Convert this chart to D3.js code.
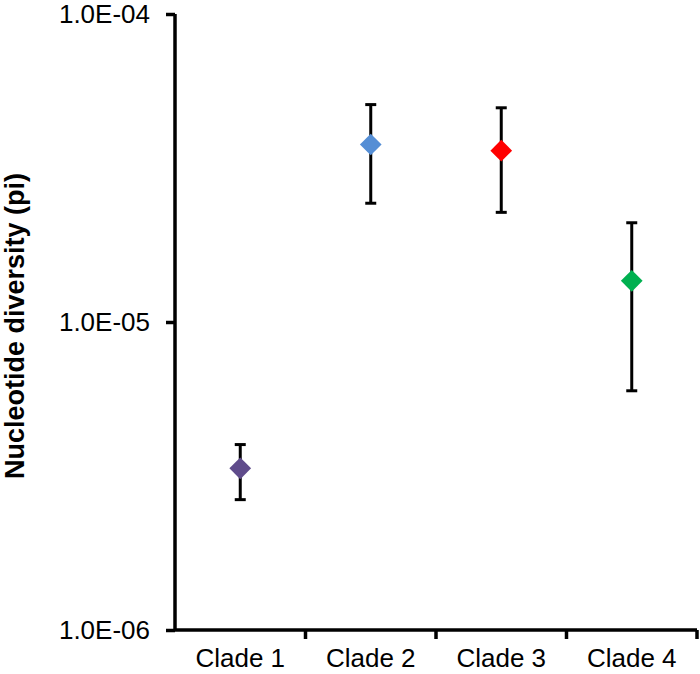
<!DOCTYPE html>
<html>
<head>
<meta charset="utf-8">
<script src="https://cdnjs.cloudflare.com/ajax/libs/d3/7.8.5/d3.min.js"></script>
<style>
  body { margin: 0; background: #fff; }
  svg text { font-family: "Liberation Sans", Arial, sans-serif; fill: #000; }
</style>
</head>
<body>
<div id="chart"></div>
<script>
// data
var clades = ["Clade 1", "Clade 2", "Clade 3", "Clade 4"];
var pi = [3.35e-6, 3.77e-5, 3.6e-5, 1.36e-5];
var piHigh = [4.0e-6, 5.08e-5, 4.96e-5, 2.1e-5];
var piLow = [2.65e-6, 2.43e-5, 2.27e-5, 5.98e-6];
var colors = ["#5f4b8b", "#558ed5", "#ff0000", "#00b050"];
var yTicks = [1e-6, 1e-5, 1e-4];

// plot box (don't call it "top", that's window.top)
var w = 700, h = 674;
var mLeft = 175, mRight = 697, mTop = 14, mBottom = 630;

var svg = d3.select("#chart").append("svg").attr("width", w).attr("height", h);

var x = d3.scaleBand().domain(clades).range([mLeft, mRight]).padding(0);
var y = d3.scaleLog().domain([1e-6, 1e-4]).range([mBottom, mTop]);

var fmt = function(d) {
	var e = Math.round(Math.log10(d));
	var s = e < 0 ? "-" : "+";
	var a = Math.abs(e);
	return "1.0E" + s + (a < 10 ? "0" + a : a);
};

// y axis
var yAxis = svg.append("g")
	.attr("transform", "translate(" + mLeft + ",0)")
	.call(d3.axisLeft(y).tickValues(yTicks).tickFormat(fmt).tickSize(9).tickPadding(16));
yAxis.select(".domain").attr("d", "M0," + mTop + "V" + mBottom)
	.attr("stroke", "#000").attr("stroke-width", 3.5);
yAxis.selectAll(".tick line").attr("stroke-width", 3.5);
yAxis.selectAll(".tick text").style("font-size", "26px");

// x axis, labels at band centres
var xAxis = svg.append("g")
	.attr("transform", "translate(0," + mBottom + ")")
	.call(d3.axisBottom(x).tickSize(0).tickPadding(19));
xAxis.select(".domain").attr("d", "M" + mLeft + ",0H" + mRight)
	.attr("stroke", "#000").attr("stroke-width", 3.5);
xAxis.selectAll(".tick text").style("font-size", "26px").attr("dy", "0.71em");

// ticks between categories
var edges = clades.map(function(c) { return x(c) + x.bandwidth(); });
svg.append("g").selectAll("line")
	.data(edges)
	.enter()
	.append("line")
	.attr("x1", function(d) { return d; })
	.attr("x2", function(d) { return d; })
	.attr("y1", mBottom)
	.attr("y2", mBottom + 9)
	.attr("stroke", "#000")
	.attr("stroke-width", 3.5);

// error bars
var cx = function(i) { return x(clades[i]) + x.bandwidth() / 2; };
var bars = svg.append("g");
clades.forEach(function(c, i) {
	bars.append("line")
		.attr("x1", cx(i)).attr("x2", cx(i))
		.attr("y1", y(piHigh[i])).attr("y2", y(piLow[i]))
		.attr("stroke", "#000").attr("stroke-width", 3);
	[piHigh[i], piLow[i]].forEach(function(v) {
		bars.append("line")
			.attr("x1", cx(i) - 5.5).attr("x2", cx(i) + 5.5)
			.attr("y1", y(v)).attr("y2", y(v))
			.attr("stroke", "#000").attr("stroke-width", 3);
	});
});

// diamonds
svg.append("g").selectAll("path")
	.data(pi)
	.enter()
	.append("path")
	.attr("d", d3.symbol().type(d3.symbolDiamond2).size(300))
	.attr("transform", function(d, i) { return "translate(" + cx(i) + "," + y(d) + ")"; })
	.attr("fill", function(d, i) { return colors[i]; });

// y title
svg.append("text")
	.attr("transform", "translate(24," + ((mTop + mBottom) / 2 + 4) + ") rotate(-90)")
	.attr("text-anchor", "middle")
	.style("font-size", "27px")
	.style("font-weight", "bold")
	.text("Nucleotide diversity (pi)");
</script>
</body>
</html>
